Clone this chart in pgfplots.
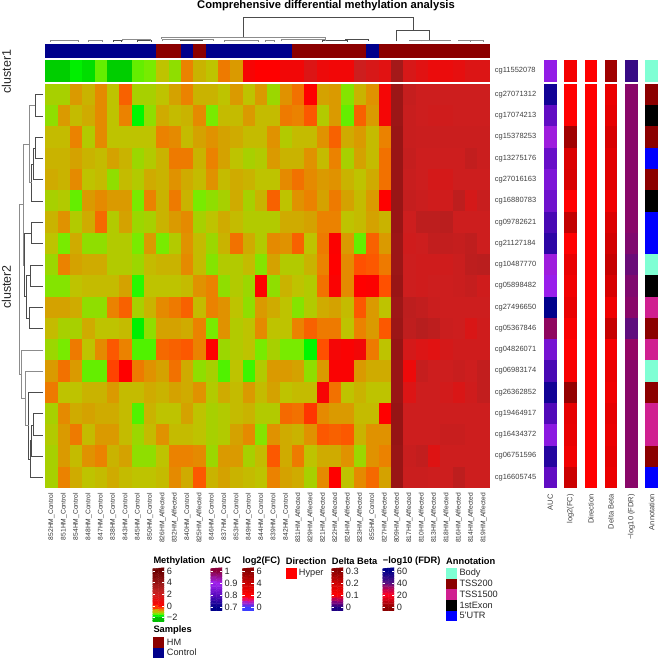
\documentclass[border=0pt]{standalone}
\usepackage{pgfplots}
\usepackage{pgfplotstable}
\usepackage{fontspec}
\setmainfont{Liberation Sans}
\pgfplotsset{compat=1.18}

\newcommand{\fs}[1]{\fontsize{#1}{#1}\selectfont}

% filled cells, one size per panel
\pgfdeclareplotmark{mcell}{\pgfpathrectangle{\pgfpoint{-6.25pt}{-10.72pt}}{\pgfpoint{12.5pt}{21.44pt}}\pgfusepathqfill}
\pgfdeclareplotmark{rcell}{\pgfpathrectangle{\pgfpoint{-6.25pt}{-10.9pt}}{\pgfpoint{12.5pt}{21.8pt}}\pgfusepathqfill}
\pgfdeclareplotmark{scell}{\pgfpathrectangle{\pgfpoint{-6.25pt}{-6.9pt}}{\pgfpoint{12.5pt}{13.8pt}}\pgfusepathqfill}
\pgfdeclareplotmark{vcell}{\pgfpathrectangle{\pgfpoint{-6.35pt}{-10.72pt}}{\pgfpoint{12.7pt}{21.44pt}}\pgfusepathqfill}

\tikzset{
  legtext/.style={font=\fs{9.2}, anchor=west, inner sep=0pt, text=black!85},
  legtitle/.style={font=\fs{9.3}\bfseries, anchor=west, inner sep=0pt},
}

\definecolor{swHyper}{RGB}{255,0,0}
\definecolor{swBody}{RGB}{127,255,212}
\definecolor{swDark}{RGB}{139,0,0}
\definecolor{swPink}{RGB}{208,32,144}
\definecolor{swNavy}{RGB}{0,0,139}

\pgfplotsset{
  colormap={meth}{rgb255(0pt)=(0,190,0); rgb255(4pt)=(0,255,0); rgb255(7pt)=(120,235,0); rgb255(10pt)=(190,195,0);
    rgb255(14pt)=(235,130,0); rgb255(17pt)=(255,80,0); rgb255(20pt)=(255,0,0); rgb255(40pt)=(205,30,30);
    rgb255(50pt)=(178,30,30); rgb255(60pt)=(150,20,20); rgb255(80pt)=(110,0,0)},
  colormap={auc}{rgb255(0pt)=(0,0,139); rgb255(10pt)=(90,10,190); rgb255(20pt)=(160,32,240); rgb255(30pt)=(139,0,60)},
  colormap={lfc}{rgb255(0pt)=(60,60,255); rgb255(10pt)=(200,20,180); rgb255(15pt)=(255,0,40); rgb255(20pt)=(255,0,0);
    rgb255(40pt)=(200,0,0); rgb255(60pt)=(139,0,0)},
  colormap={dbeta}{rgb255(0pt)=(30,0,130); rgb255(5pt)=(150,0,120); rgb255(10pt)=(255,0,0); rgb255(20pt)=(205,0,0); rgb255(30pt)=(139,0,0)},
  colormap={fdr}{rgb255(0pt)=(139,0,0); rgb255(20pt)=(255,0,30); rgb255(30pt)=(190,0,80); rgb255(40pt)=(85,15,130); rgb255(60pt)=(0,0,139)},
  colormap={dirn}{rgb255(0pt)=(255,0,0); rgb255(1pt)=(255,0,0)},
  colormap={samp}{rgb255(0pt)=(0,0,139); rgb255(1pt)=(139,0,0)},
  colormap={anno}{rgb255(0pt)=(127,255,212); rgb255(1pt)=(139,0,0); rgb255(2pt)=(208,32,144); rgb255(3pt)=(0,0,0); rgb255(4pt)=(0,0,255)},
  cells/.style={scatter, only marks, point meta=explicit, scatter/use mapped color={fill=mapped color}},
  panel/.style={anchor=south west, scale only axis, enlargelimits=false, axis line style={draw=none},
    major tick length=0pt, tick style={draw=none}},
  strip/.style={panel, width=12.7pt, height=428pt, xmin=-0.5, xmax=0.5, ymin=60, ymax=488, y dir=reverse,
    ytick=\empty, xtick={0}, xticklabel pos=lower, xticklabel shift=6pt,
    xticklabel style={rotate=90, anchor=east, inner sep=0pt, font=\fs{7.5}, text=black!75}},
  cbar/.style={panel, anchor=north west, width=11.5pt, xmin=0, xmax=1, xtick=\empty, yticklabel pos=right,
    major tick length=2.5pt, tick align=inside, tick style={draw=white, line width=0.5pt},
    yticklabel shift=2.5pt, yticklabel style={anchor=west, inner sep=0pt, font=\fs{9.2}, text=black!85},
    axis on top},
  swatch/.style={scatter=false, point meta=0, only marks, mark=square*, mark size=4.9pt, color=#1,
    mark options={draw=none, fill=#1}, scatter/use mapped color={draw=none, fill=#1}},
  dendro/.style={scatter=false, point meta=0, no markers, line width=0.6pt, unbounded coords=jump, line join=miter},
}

% main heatmap, one line per probe (cluster2), one column per sample
\pgfplotstableread[header=false]{
-1.1 -1.1 -0.75 -0.9 -0.65 -1 -0.4 -1.1 -1.1 -1 -0.8 -0.6 -0.9 -0.9 -1 -0.75 -1 -0.75 -1.15 -0.7 -0.5 0 -0.8 -0.75 -1.25 -0.9 -0.7 0.4 3.8 2.3 2 2 2 2 2 2
-1.2 -0.75 -0.95 -0.85 -0.65 -1 -0.6 -1.65 -1.2 -0.85 -0.95 -0.9 -0.65 -1.3 -0.95 -0.95 -0.75 -0.95 -0.95 -0.55 -0.6 -0.35 -1.05 -0.75 -1.35 -0.4 -0.75 0.4 3.8 2.2 2 1.9 1.9 2 2 2
-0.95 -0.95 -0.6 -1.05 -0.65 -1 -1 -1 -1 -0.6 -0.65 -0.95 -0.8 -0.7 -0.8 -0.85 -0.95 -0.95 -0.7 -1.05 -0.95 -0.95 -0.7 -0.4 -0.85 -0.75 -0.95 -0.6 3.9 2.2 2.1 2.1 2.1 2.1 2.1 2.1
-0.9 -0.9 -0.8 -0.9 -0.95 -0.8 -0.9 -1.15 -1.05 -0.9 -0.55 -0.55 -0.9 -0.6 -0.8 -1 -1.1 -1.05 -0.75 -0.9 -0.9 -0.7 -0.95 -0.6 -1.1 -0.8 -0.95 -0.5 3.9 2.3 2 2 2 2 2.4 2.1
-0.85 -0.9 -0.65 -1 -0.95 -1.2 -0.95 -1.05 -0.85 -0.9 -0.7 -0.85 -0.95 -0.7 -0.95 -0.85 -0.9 -1 -1 -0.65 -0.5 -0.65 -0.75 -0.7 -0.9 -1 -0.85 -0.5 3.9 2.2 2 1.7 1.7 2 2 2
-1.1 -1.05 -1.35 -0.75 -0.65 -0.75 -0.75 -1.3 -0.6 -0.9 -0.55 -0.9 -1.3 -1.2 -1.1 -0.85 -1.1 -0.9 -0.4 -1 -0.7 -0.6 -0.8 -0.55 -0.8 -0.95 -0.75 0 3.9 2.3 2.1 1.9 1.9 2.6 1.7 2.2
-0.9 -0.7 -1.05 -0.85 -0.45 -1.05 -0.8 -1.15 -1.1 -0.9 -0.75 -0.65 -1.1 -1 -0.85 -0.95 -1.05 -1.05 -1.05 -0.85 -0.85 -0.8 -0.6 -0.6 -1 -0.95 -0.8 -0.9 3.9 2 2.6 2.6 2.7 2 2 2
-1 -1.3 -0.85 -1.2 -1.2 -1.05 -1.05 -1.3 -0.75 -1.3 -1.05 -0.7 -0.95 -1.15 -0.9 -0.5 -0.85 -1.05 -0.65 -0.7 -0.4 -1 -0.55 0.1 -0.75 -1.35 -0.4 -0.75 3.8 1.9 2 2.4 2.4 2.3 2.5 2
-1.15 -0.6 -0.8 -0.85 -0.85 -1.05 -1.05 -1.15 -0.95 -0.9 -0.9 -0.65 -0.95 -1.25 -1.05 -1.05 -0.95 -1.25 -0.8 -1.05 -1.05 -0.9 -0.6 0 -0.65 -0.3 -0.35 -0.55 3.8 2 1.9 1.9 1.9 2.1 2.6 2.7
-1.25 -1.25 -1 -0.95 -0.95 -0.95 -0.8 -1.5 -1 -1 -1 -0.95 -0.7 -0.6 -1.2 -1.05 -1.15 0 -1.2 -0.9 -1 -1.05 -0.5 0.2 -0.65 0 0.1 -0.3 3.9 2 1.9 2 2 2.1 2.3 1.9
-0.8 -0.8 -0.85 -1.2 -1.2 -0.6 -0.4 -1.1 -0.9 -0.65 -0.55 -0.4 -0.95 -0.6 -0.7 -1 -1.2 -0.75 -0.85 -1 -1.25 -1.05 -0.85 -0.8 -0.95 -0.35 -0.75 -1 3.7 2.6 2.4 2.1 2 2 2 2
-0.95 -1.1 -1.1 -0.85 -1 -1 -0.95 -1.7 -1.2 -0.8 -0.8 -0.85 -0.6 -1.3 -0.7 -1.05 -1 -0.65 -1 -1 -0.6 -0.4 -0.55 -0.55 -1 -0.6 -0.75 -0.35 3.8 2.5 2.8 2.6 2.1 2 1.5 1.9
-1.15 -1.3 -0.55 -1 -0.65 -0.35 -0.6 -1.4 -1.4 -0.45 -0.4 -0.35 -0.6 0 -1.15 -1.05 -1 -1.3 -1.1 -1.3 -1.3 -1.65 -0.3 0.4 0.2 0.5 -0.55 -1 4 1.7 1.4 1.2 1.7 1.9 1.9 1.9
-0.75 -0.5 -0.75 -1.35 -1.35 -0.25 0 -0.55 -0.7 -0.8 -0.5 -0.85 -1.2 -1.1 -1.4 -1 -1.45 -1.05 -0.75 -0.75 -0.8 -1.2 -0.75 0.2 0.2 -0.75 -0.85 -0.85 3.9 0.7 2.3 2 2 2.2 2 2.4
-0.55 -1 -1 -0.9 -0.9 -0.75 -0.95 -0.95 -0.85 -0.9 -0.8 -0.85 -0.7 -1.05 -0.85 -0.95 -0.75 -0.95 -0.8 -1 -0.95 -0.95 0.3 -0.5 -1 -0.9 -1 -1 3.9 1.4 2 2 1.8 1.5 1.9 2.4
-1.1 -0.65 -0.85 -0.8 -0.85 -0.85 -0.95 -1.4 -0.9 -1 -1 -0.8 -1 -1.1 -1.05 -0.95 -0.9 -1.05 -1.05 -0.45 -0.5 -0.2 -0.65 -0.75 -0.75 -0.95 -0.95 0 4 2 2 2 2 2 2 2
-1.05 -0.75 -0.55 -0.95 -0.75 -0.75 -0.95 -1.15 -0.95 -0.7 -0.95 -0.95 -1 -1.1 -1.05 -0.8 -0.65 -1.25 -0.7 -0.85 -0.9 -0.7 -0.35 -0.4 -0.35 -0.9 -0.7 -0.7 4 2 2 2 2.2 2.2 2 2
-1.1 -0.75 -0.95 -0.7 -0.6 -0.9 -0.8 -1.2 -1.2 -1 -0.6 -0.6 -0.65 -1.15 -0.75 -0.75 -1.1 -0.95 -0.35 -0.85 -0.55 -1 -0.85 -0.85 -0.7 -1.15 -0.7 -0.6 3.9 2.2 2.4 1.3 2 2 2 2
-1.1 -0.6 -0.85 -1 -0.95 -0.85 -0.95 -1 -1 -0.95 -0.65 -0.85 -0.35 -0.9 -0.8 -0.9 -0.95 -1 -0.6 -0.8 -0.85 -1.1 -0.65 0 -1 -0.65 -0.45 -0.8 3.9 2.1 2.1 2 2 2.6 2 2
}\heat

% per sample: cg11552078 (cluster1), group (0 Control, 1 HM)
\pgfplotstableread{
cl grp
-1.9 0
-1.9 0
-1.7 0
-1.8 0
-1.35 0
-1.9 0
-1.9 0
-1.35 0
-1.3 0
-1 1
-1.2 1
-0.6 0
-0.9 1
-1 0
-0.55 0
-0.75 0
0.3 0
0 0
0 0
0.5 0
0.5 1
1.4 1
0.7 1
0.5 1
0.5 1
2 1
1.6 0
1.2 1
3.5 1
1.6 1
1.2 1
0.8 1
0.8 1
1 1
1.4 1
1.4 1
}\samples

% per probe, first line is cluster1; y = row centre
\pgfplotstableread{
y auc lfc dirn dbeta fdr anno
70.85 0.88 2.4 1 0.27 47 0
94.65 0.72 2 1 0.14 35 1
115.9 0.81 2 1 0.15 35 3
137.2 0.91 5.3 1 0.18 35 1
158.5 0.82 3.3 1 0.16 35 4
179.7 0.85 3.4 1 0.16 35 1
201 0.83 2 1 0.13 35 3
222.3 0.78 4.2 1 0.17 35 4
243.5 0.75 2 1 0.19 36 4
264.8 0.91 2.8 1 0.21 38 0
286.1 0.89 2.5 1 0.18 36 3
307.4 0.7 2.8 1 0.13 35 2
328.6 0.98 2.2 1 0.21 39 1
349.9 0.84 2 1 0.12 34 2
371.2 0.78 2.3 1 0.14 35 0
392.4 0.72 5.7 1 0.13 35 1
413.7 0.79 2.9 1 0.15 35 2
435 0.87 2.8 1 0.14 35 2
456.3 0.74 2.5 1 0.15 35 1
477.5 0.81 3.9 1 0.14 35 4
}\probes

% evenly spaced ramp for the colour keys
\pgfplotstablenew[
  create on use/s/.style={create col/expr={mod(\pgfplotstablerow,2)}},
  create on use/t/.style={create col/expr={floor(\pgfplotstablerow/2)/26}},
  columns={s,t}]{54}\ramptab

\newcommand{\ramp}{\addplot[matrix plot*, mesh/cols=2, point meta=y] table[
  x=s,
  y expr={\pgfkeysvalueof{/pgfplots/ymin}+(\pgfkeysvalueof{/pgfplots/ymax}-\pgfkeysvalueof{/pgfplots/ymin})*\thisrow{t}}]{\ramptab};}

\newcommand{\annostrip}[6]{%
  \begin{axis}[strip, at={(#1pt,170pt)}, colormap name=#2, point meta min=#3, point meta max=#4, xticklabels={#6}]
    \addplot[cells, mark=vcell] table[x expr=0, y=y, meta=#5]{\probes};
  \end{axis}}

\begin{document}
\begin{tikzpicture}[x=1pt,y=1pt]
\useasboundingbox (0,0) rectangle (658,658);

% main heatmap
\begin{axis}[panel, at={(45.3pt,170pt)}, width=444.4pt, height=404pt,
    xmin=-0.5, xmax=35.5, ymin=-0.5, ymax=18.5, y dir=reverse,
    colormap name=meth, point meta min=-2, point meta max=6,
    xtick={0,...,35}, ytick={0,...,18},
    xticklabels={852HM\_Control,851HM\_Control,854HM\_Control,848HM\_Control,847HM\_Control,838HM\_Control,843HM\_Control,845HM\_Control,850HM\_Control,826HM\_Affected,832HM\_Affected,840HM\_Control,825HM\_Affected,846HM\_Control,837HM\_Control,853HM\_Control,849HM\_Control,844HM\_Control,839HM\_Control,842HM\_Control,831HM\_Affected,829HM\_Affected,821HM\_Affected,822HM\_Affected,824HM\_Affected,823HM\_Affected,855HM\_Control,827HM\_Affected,809HM\_Affected,817HM\_Affected,810HM\_Affected,813HM\_Affected,818HM\_Affected,816HM\_Affected,814HM\_Affected,819HM\_Affected},
    yticklabels={cg27071312,cg17074213,cg15378253,cg13275176,cg27016163,cg16880783,cg09782621,cg21127184,cg10487770,cg05898482,cg27496650,cg05367846,cg04826071,cg06983174,cg26362852,cg19464917,cg16434372,cg06751596,cg16605745},
    xticklabel pos=lower, xticklabel shift=5pt,
    xticklabel style={rotate=90, anchor=east, inner sep=0pt, font=\fs{6.7}, text=black!80},
    yticklabel pos=right, yticklabel shift=5pt,
    yticklabel style={anchor=west, inner sep=0pt, font=\fs{7.5}, text=black!75}]
  \pgfplotsinvokeforeach{0,...,35}{
    \addplot[cells, mark=mcell] table[header=false, x expr=#1, y expr=\coordindex, meta index=#1]{\heat};
  }
\end{axis}

% cluster1 row
\begin{axis}[panel, hide axis, at={(45.3pt,576.3pt)}, width=444.4pt, height=21.7pt,
    xmin=0, xmax=36, ymin=0, ymax=1, colormap name=meth, point meta min=-2, point meta max=6]
  \addplot[cells, mark=rcell] table[x expr=\coordindex+0.5, y expr=0.5, meta=cl]{\samples};
\end{axis}

% sample group row
\begin{axis}[panel, hide axis, at={(45.3pt,600.3pt)}, width=444.4pt, height=13.7pt,
    xmin=0, xmax=36, ymin=0, ymax=1, colormap name=samp, point meta min=0, point meta max=1]
  \addplot[cells, mark=scell] table[x expr=\coordindex+0.5, y expr=0.5, meta=grp]{\samples};
\end{axis}

% probe annotation strips
\annostrip{544}{auc}{0.7}{1}{auc}{AUC}
\annostrip{564}{lfc}{0}{6}{lfc}{log2(FC)}
\annostrip{584.5}{dirn}{0}{1}{dirn}{Direction}
\annostrip{604.7}{dbeta}{0}{0.3}{dbeta}{Delta Beta}
\annostrip{625}{fdr}{0}{60}{fdr}{−log10 (FDR)}
\annostrip{645.3}{anno}{0}{4}{anno}{Annotation}

% colour keys
\begin{axis}[cbar, at={(152.7pt,90.3pt)}, height=54pt, colormap name=meth, point meta min=-2, point meta max=6,
    ymin=-2.7, ymax=6.57, ytick={-2,0,2,4,6}, yticklabels={−2,0,2,4,6}]
  \ramp
\end{axis}
\begin{axis}[cbar, at={(210.5pt,90.3pt)}, height=43pt, colormap name=auc, point meta min=0.7, point meta max=1,
    ymin=0.669, ymax=1.0275, ytick={0.7,0.8,0.9,1}, yticklabels={0.7,0.8,0.9,1}]
  \ramp
\end{axis}
\begin{axis}[cbar, at={(242.3pt,90.3pt)}, height=43pt, colormap name=lfc, point meta min=0, point meta max=6,
    ymin=-0.6, ymax=6.55, ytick={0,2,4,6}, yticklabels={0,2,4,6}]
  \ramp
\end{axis}
\begin{axis}[cbar, at={(331.7pt,90.3pt)}, height=43pt, colormap name=dbeta, point meta min=0, point meta max=0.3,
    ymin=-0.03, ymax=0.3275, ytick={0,0.1,0.2,0.3}, yticklabels={0,0.1,0.2,0.3}]
  \ramp
\end{axis}
\begin{axis}[cbar, at={(382.7pt,90.3pt)}, height=43pt, colormap name=fdr, point meta min=0, point meta max=60,
    ymin=-6, ymax=65.5, ytick={0,20,40,60}, yticklabels={0,20,40,60}]
  \ramp
\end{axis}

% dendrograms, swatches and free text, in picture pixels
\begin{axis}[panel, hide axis, at={(0pt,0pt)}, width=658pt, height=658pt, xmin=0, xmax=658, ymin=0, ymax=658,
    y dir=reverse, clip=false]
  \addplot[dendro, color=black!70] coordinates {
    (243.7,37.3)(243.7,17.5)(413.3,17.5)(413.3,30.3)(nan,nan)
    (396.7,41.5)(396.7,30.3)(429.3,30.3)(429.3,40)(nan,nan)
    (421,41.5)(421,40.2)(446,40.2)(446,41.5)(nan,nan)
    (347,41.5)(347,40.8)(322,40.8)(322,41.5)(nan,nan)
    (113,41.5)(113,40.8)(121,40.8)(121,41.5)(nan,nan)
    (137,41.5)(137,40.8)(151,40.8)(151,41.5)(nan,nan)
    (180,41.5)(180,40.2)(202,40.2)(202,41.5)(nan,nan)
    (345,40.8)(345,39.5)(368,39.5)(368,41.5)(nan,nan)
    (43.3,94.6)(35,94.6)(35,115.9)(43.3,115.9)(nan,nan)
    (43.3,137.2)(35,137.2)(35,158.5)(43.3,158.5)(nan,nan)
    (35,148)(33.7,148)(33.7,179.7)(43.3,179.7)(nan,nan)
    (33.7,164)(31.7,164)(31.7,201)(43.3,201)(nan,nan)
    (43.3,222.3)(31,222.3)(31,243.5)(43.3,243.5)(nan,nan)
    (43.3,264.8)(30,264.8)(30,286.1)(43.3,286.1)(nan,nan)
    (43.3,307.4)(29.3,307.4)(29.3,328.6)(43.3,328.6)(nan,nan)
    (30,275.5)(26,275.5)(26,318)(29.3,318)(nan,nan)
    (26,296.7)(24.5,296.7)(24.5,233)(31,233)(nan,nan)
    (43.3,413.7)(33,413.7)(33,435)(43.3,435)(nan,nan)
    (33,425)(31.3,425)(31.3,456.3)(43.3,456.3)(nan,nan)
    (31.3,440)(30.3,440)(30.3,477.5)(43.3,477.5)(nan,nan)
    (30.3,459)(28.7,459)(28.7,392.4)(43.3,392.4)(nan,nan)
  };
  \addplot[dendro, color=black!45] coordinates {
    (161.7,39.5)(161.7,37.3)(325,37.3)(325,38.8)(nan,nan)
    (122,41.5)(122,39.5)(150,39.5)(150,41.5)(nan,nan)
    (162,41.5)(162,39.5)(213,39.5)(213,41.5)(nan,nan)
    (50,41.5)(50,40.8)(78,40.8)(78,41.5)(nan,nan)
    (88,41.5)(88,40.8)(102,40.8)(102,41.5)(nan,nan)
    (224,41.5)(224,40.8)(258,40.8)(258,41.5)(nan,nan)
    (265,41.5)(265,40.8)(274,40.8)(274,41.5)(nan,nan)
    (281,41.5)(281,39)(325,39)(325,41.5)(nan,nan)
    (409.7,41.5)(409.7,40)(450,40)(450,41.5)(nan,nan)
    (458,41.5)(458,40.5)(470,40.5)(470,41.5)(nan,nan)
    (470,41.5)(470,40.8)(483.7,40.8)(483.7,41.5)(nan,nan)
    (29,105.3)(35,105.3)(nan,nan)
    (29,105.3)(29,182.5)(31.7,182.5)(nan,nan)
    (23.3,144)(29,144)(nan,nan)
    (23.3,144)(23.3,265)(24.5,265)(nan,nan)
    (19,204.5)(23.3,204.5)(nan,nan)
    (19,204.5)(19,374)(21.7,374)(nan,nan)
    (43.3,350)(21.7,350)(21.7,398)(25,398)(nan,nan)
    (43.3,371.2)(25,371.2)(25,425.7)(28.7,425.7)(nan,nan)
  };
  \addplot[swatch=swHyper] coordinates {(291,573)};
  \addplot[swatch=swBody] coordinates {(451,573.3)};
  \addplot[swatch=swDark] coordinates {(451,583.8)};
  \addplot[swatch=swPink] coordinates {(451,594.4)};
  \addplot[swatch=black] coordinates {(451,605)};
  \addplot[swatch=blue] coordinates {(451,615.7)};
  \addplot[swatch=swDark] coordinates {(158.5,642)};
  \addplot[swatch=swNavy] coordinates {(158.5,652.7)};

  \node[font=\fs{11.2}\bfseries] at (326,6) {Comprehensive differential methylation analysis};
  \node[font=\fs{12.5}, rotate=90, text=black!85] at (6.5,71.5) {cluster1};
  \node[font=\fs{12.5}, rotate=90, text=black!85] at (6.5,287) {cluster2};
  \node[font=\fs{7.5}, anchor=west, inner sep=0pt, text=black!75] at (494.7,71) {cg11552078};

  \node[legtitle] at (153.3,560.7) {Methylation};
  \node[legtitle] at (210.7,560.7) {AUC};
  \node[legtitle] at (242.3,560.7) {log2(FC)};
  \node[legtitle] at (285.7,560.7) {Direction};
  \node[legtitle] at (331.7,560.7) {Delta Beta};
  \node[legtitle] at (382.7,560.7) {−log10 (FDR)};
  \node[legtitle] at (446,560.7) {Annotation};
  \node[legtitle] at (153.3,630) {Samples};
  \node[legtext] at (298.7,573) {Hyper};
  \node[legtext] at (459.3,573.3) {Body};
  \node[legtext] at (459.3,583.8) {TSS200};
  \node[legtext] at (459.3,594.4) {TSS1500};
  \node[legtext] at (459.3,605) {1stExon};
  \node[legtext] at (459.3,615.7) {5'UTR};
  \node[legtext] at (166.7,642) {HM};
  \node[legtext] at (166.7,652.7) {Control};
\end{axis}
\end{tikzpicture}
\end{document}
